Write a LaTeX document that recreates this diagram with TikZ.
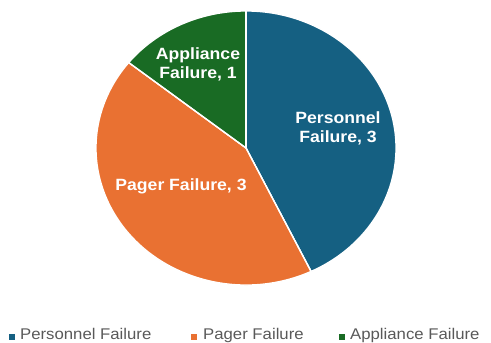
\documentclass[tikz,border=0pt]{standalone}
\usepackage{fontspec}
\setmainfont{Liberation Sans}
\usetikzlibrary{calc}
\definecolor{cPers}{HTML}{156082}
\definecolor{cPager}{HTML}{E97132}
\definecolor{cAppl}{HTML}{196B24}
\definecolor{cLeg}{HTML}{595959}
\newcommand\sx[1]{\scalebox{1.08}[1]{#1}}
\tikzset{
  slice/.style={draw=white, line width=1.3pt, line join=round},
  lbl/.style={text=white, align=center, font=\fontsize{16.3}{19.5}\selectfont\bfseries, inner sep=0pt},
  leg/.style={text=cLeg, font=\fontsize{15.5}{18}\selectfont, anchor=base west, inner sep=0pt},
  legbox/.style={minimum size=6pt, inner sep=0pt, anchor=south west}
}
\begin{document}
\begin{tikzpicture}[x=1pt,y=1pt]
\useasboundingbox (0,0) rectangle (491,343);
\coordinate (C) at (246,195);
\fill[slice, fill=cPers] (C) -- ($(C)+(90:150 and 137)$) arc[start angle=90, end angle=-64.2857, x radius=150, y radius=137] -- cycle;
\fill[slice, fill=cPager] (C) -- ($(C)+(-64.2857:150 and 137)$) arc[start angle=-64.2857, end angle=-218.5714, x radius=150, y radius=137] -- cycle;
\fill[slice, fill=cAppl] (C) -- ($(C)+(141.4286:150 and 137)$) arc[start angle=141.4286, end angle=90, x radius=150, y radius=137] -- cycle;
\draw[slice] (C) -- ($(C)+(90:150 and 137)$);
\draw[slice] (C) -- ($(C)+(-64.2857:150 and 137)$);
\draw[slice] (C) -- ($(C)+(141.4286:150 and 137)$);
\node[lbl] (lPers) at (338,214.5) {\sx{Personnel}\\\sx{Failure, 3}};
\node[lbl] (lAppl) at (198,278.5) {\sx{Appliance}\\\sx{Failure, 1}};
\node[lbl] (lPager) at (181,156.5) {\sx{Pager Failure, 3}};
\node[legbox, fill=cPers] (mPers) at (9,3) {};
\node[leg] (tPers) at (20,3.4) {\sx{Personnel Failure}};
\node[legbox, fill=cPager] (mPager) at (191,3) {};
\node[leg] (tPager) at (203,3.4) {\sx{Pager Failure}};
\node[legbox, fill=cAppl] (mAppl) at (339,3) {};
\node[leg] (tAppl) at (350,3.4) {\sx{Appliance Failure}};
\end{tikzpicture}
\end{document}
